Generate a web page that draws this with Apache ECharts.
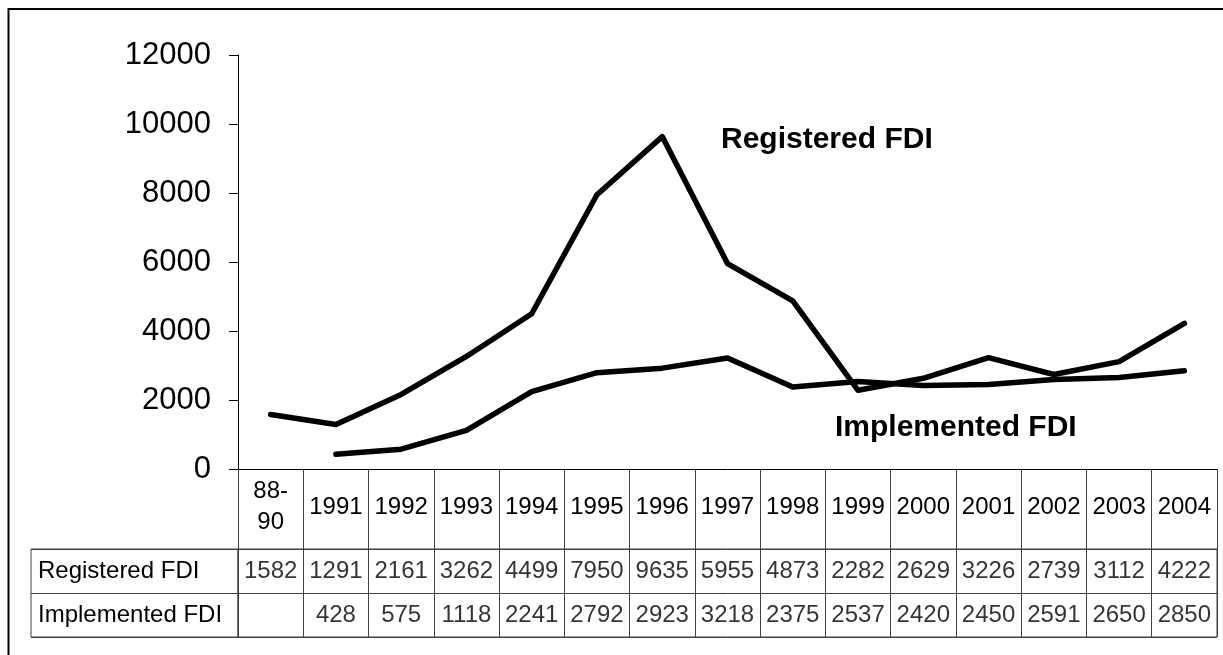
<!DOCTYPE html>
<html>
<head>
<meta charset="utf-8">
<script src="https://cdn.jsdelivr.net/npm/echarts@6/dist/echarts.min.js"></script>
<style>
  html, body { margin: 0; padding: 0; background: #fff; }
  #chart { width: 1223px; height: 655px; }
</style>
</head>
<body>
<div id="chart"></div>
<script>
  const categories = ['88-\n90', '1991', '1992', '1993', '1994', '1995', '1996', '1997',
    '1998', '1999', '2000', '2001', '2002', '2003', '2004'];
  const registered = [1582, 1291, 2161, 3262, 4499, 7950, 9635, 5955, 4873, 2282, 2629, 3226, 2739, 3112, 4222];
  const implemented = [null, 428, 575, 1118, 2241, 2792, 2923, 3218, 2375, 2537, 2420, 2450, 2591, 2650, 2850];
  const rowNames = ['Registered FDI', 'Implemented FDI'];
  const yTicks = {min: 0, max: 12000, interval: 2000};

  const font = 'Arial, "Liberation Sans", sans-serif';
  const tableLine = '#404040';

  const cells = (row, values) => values
    .map((v, i) => [categories[i], row, v])
    .filter(d => d[2] !== null);

  const chart = echarts.init(document.getElementById('chart'));
  chart.setOption({
    animation: false,
    textStyle: {fontFamily: font, color: '#000'},
    grid: [
      {left: 238, right: 6, top: 55, bottom: 186, containLabel: false},
      {left: 238, right: 6, top: 549, bottom: 18, show: true, borderColor: tableLine, borderWidth: 1},
      {left: 31, width: 207, top: 549, bottom: 18, show: true, borderColor: tableLine, borderWidth: 1}
    ],
    xAxis: [
      {
        type: 'category',
        gridIndex: 0,
        data: categories,
        boundaryGap: true,
        axisLine: {lineStyle: {color: '#000', width: 1}},
        axisTick: {show: true, interval: 0, length: 80, lineStyle: {color: tableLine}},
        axisLabel: {
          interval: 0, fontSize: 24, lineHeight: 31, color: '#000',
          fontFamily: font, verticalAlign: 'middle', margin: 38
        }
      },
      {
        type: 'category',
        gridIndex: 1,
        data: categories,
        boundaryGap: true,
        axisLine: {show: false},
        axisTick: {show: false},
        axisLabel: {show: false},
        splitLine: {show: true, interval: 0, lineStyle: {color: tableLine}}
      },
      {type: 'value', gridIndex: 2, show: false}
    ],
    yAxis: [
      {
        type: 'value',
        gridIndex: 0,
        min: yTicks.min,
        max: yTicks.max,
        interval: yTicks.interval,
        axisLine: {show: true, lineStyle: {color: '#000', width: 1}},
        axisTick: {show: true, length: 9, lineStyle: {color: '#000'}},
        axisLabel: {fontSize: 31, color: '#000', fontFamily: font, margin: 27, formatter: v => String(v)},
        splitLine: {show: false}
      },
      {
        type: 'category',
        gridIndex: 1,
        data: rowNames,
        inverse: true,
        axisLine: {show: false},
        axisTick: {show: false},
        axisLabel: {fontSize: 24, color: '#000', fontFamily: font, align: 'left', margin: 200},
        splitLine: {show: true, interval: 0, lineStyle: {color: tableLine}}
      },
      {
        type: 'category',
        gridIndex: 2,
        data: rowNames,
        inverse: true,
        axisLine: {show: false},
        axisTick: {show: false},
        axisLabel: {show: false},
        splitLine: {show: true, interval: 0, lineStyle: {color: tableLine}}
      }
    ],
    series: [
      {
        name: 'Registered FDI',
        type: 'line',
        data: registered,
        symbol: 'none',
        lineStyle: {color: '#000', width: 5.5, cap: 'round', join: 'round'}
      },
      {
        name: 'Implemented FDI',
        type: 'line',
        data: implemented,
        symbol: 'none',
        connectNulls: false,
        lineStyle: {color: '#000', width: 5.5, cap: 'round', join: 'round'}
      },
      ...rowNames.map((row, r) => ({
        type: 'scatter',
        xAxisIndex: 1,
        yAxisIndex: 1,
        silent: true,
        symbolSize: 1,
        itemStyle: {color: 'transparent'},
        data: cells(row, r === 0 ? registered : implemented),
        label: {
          show: true, position: 'inside', fontSize: 24, color: '#000', fontFamily: font,
          formatter: p => String(p.value[2])
        }
      }))
    ],
    graphic: [
      {
        type: 'rect', silent: true,
        shape: {x: 8.5, y: 9, width: 1400, height: 800},
        style: {fill: 'none', stroke: '#000', lineWidth: 2}
      },
      {
        type: 'text', left: 721, top: 125, silent: true,
        style: {text: 'Registered FDI', font: 'bold 30px ' + font, fill: '#000'}
      },
      {
        type: 'text', left: 835, top: 413, silent: true,
        style: {text: 'Implemented FDI', font: 'bold 30px ' + font, fill: '#000'}
      }
    ]
  });
</script>
</body>
</html>
